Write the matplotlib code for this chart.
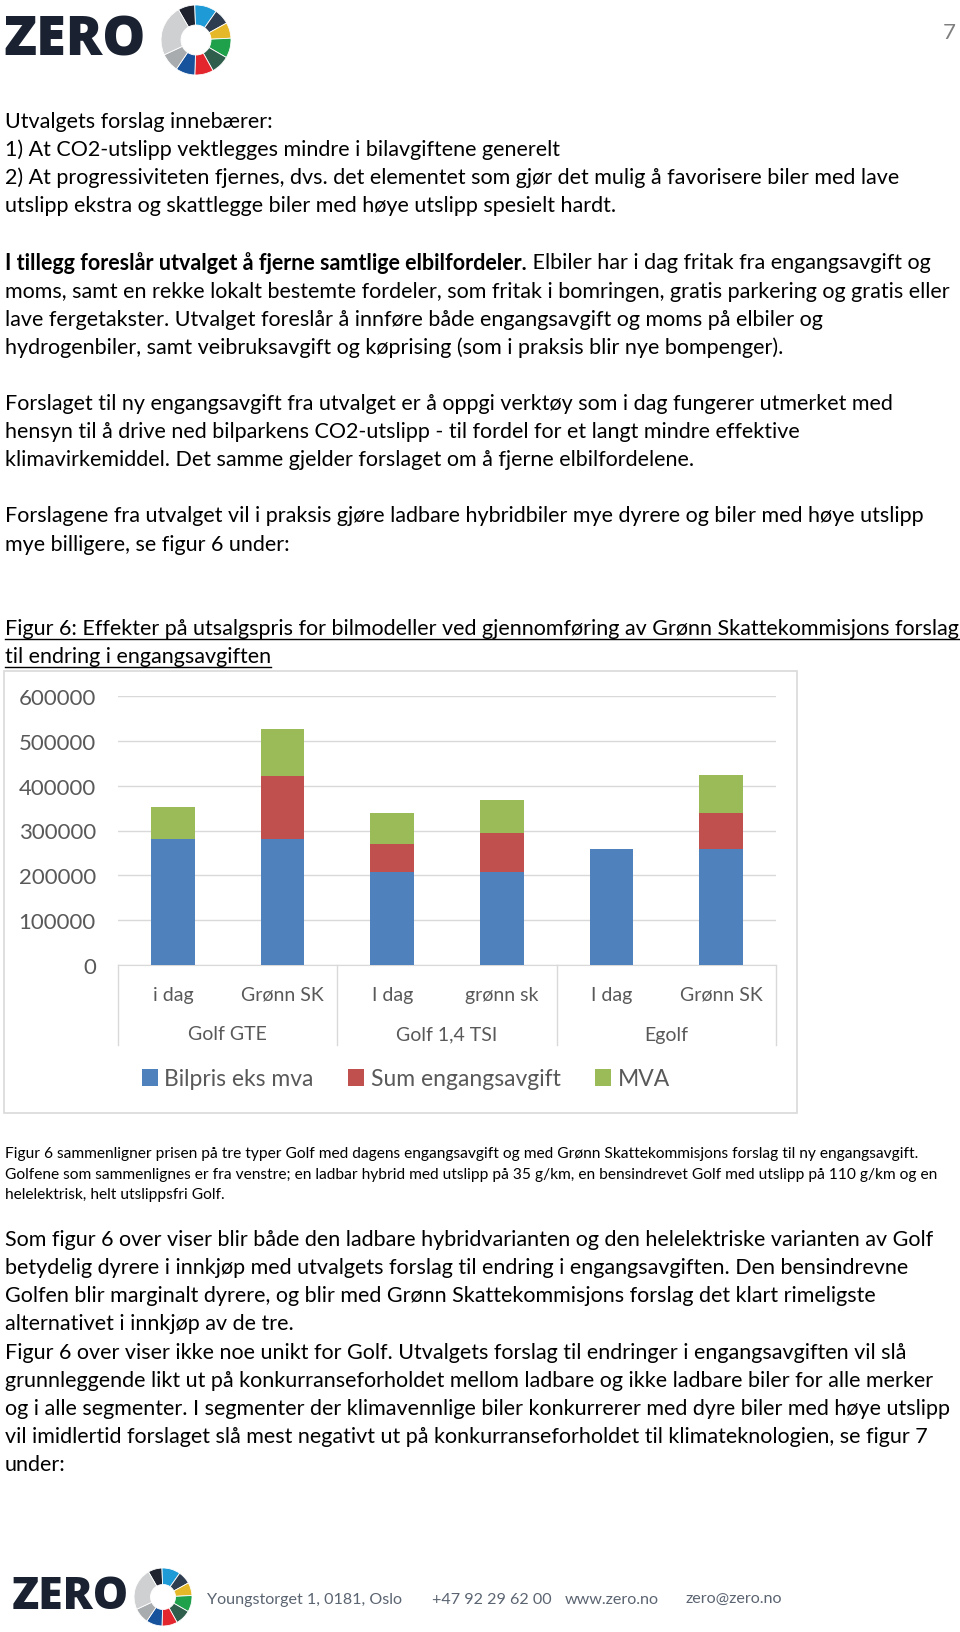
import matplotlib
matplotlib.use("Agg")
import matplotlib.pyplot as plt
import matplotlib.transforms as mtransforms
from matplotlib.patches import Wedge, Rectangle
from matplotlib.lines import Line2D
import numpy as np

W, H = 960, 1633
FONT = ["Lato", "DejaVu Sans"]

# --- dados do grafico (figur 6) ---
biler = ["Golf GTE", "Golf 1,4 TSI", "Egolf"]
scenarier = ["i dag", "Grønn SK", "I dag", "grønn sk", "I dag", "Grønn SK"]
bilpris = [281000, 281000, 207000, 207000, 259000, 259000]
engangsavgift = [0, 140000, 63000, 88000, 0, 80000]
mva = [71000, 105000, 68000, 74000, 0, 84000]
serier = ["Bilpris eks mva", "Sum engangsavgift", "MVA"]
farger = ["#4F81BD", "#C0504D", "#9BBB59"]
y_ticks = [0, 100000, 200000, 300000, 400000, 500000, 600000]

# --- tekst paa siden: (y i piksler, tekst) ---
tekst_topp = [
    (122, "Utvalgets forslag innebærer:"),
    (150, "1) At CO2-utslipp vektlegges mindre i bilavgiftene generelt"),
    (178, "2) At progressiviteten fjernes, dvs. det elementet som gjør det mulig å favorisere biler med lave"),
    (206, "utslipp ekstra og skattlegge biler med høye utslipp spesielt hardt."),
    (292, "moms, samt en rekke lokalt bestemte fordeler, som fritak i bomringen, gratis parkering og gratis eller"),
    (320, "lave fergetakster. Utvalget foreslår å innføre både engangsavgift og moms på elbiler og"),
    (348, "hydrogenbiler, samt veibruksavgift og køprising (som i praksis blir nye bompenger)."),
    (404, "Forslaget til ny engangsavgift fra utvalget er å oppgi verktøy som i dag fungerer utmerket med"),
    (432, "hensyn til å drive ned bilparkens CO2-utslipp - til fordel for et langt mindre effektive"),
    (460, "klimavirkemiddel. Det samme gjelder forslaget om å fjerne elbilfordelene."),
    (516, "Forslagene fra utvalget vil i praksis gjøre ladbare hybridbiler mye dyrere og biler med høye utslipp"),
    (545, "mye billigere, se figur 6 under:"),
]
fet_linje = (263, "I tillegg foreslår utvalget å fjerne samtlige elbilfordeler.",
             " Elbiler har i dag fritak fra engangsavgift og")
figurtittel = [
    (629, "Figur 6: Effekter på utsalgspris for bilmodeller ved gjennomføring av Grønn Skattekommisjons forslag"),
    (657, "til endring i engangsavgiften"),
]
bildetekst = [
    (1154, "Figur 6 sammenligner prisen på tre typer Golf med dagens engangsavgift og med Grønn Skattekommisjons forslag til ny engangsavgift."),
    (1175, "Golfene som sammenlignes er fra venstre; en ladbar hybrid med utslipp på 35 g/km, en bensindrevet Golf med utslipp på 110 g/km og en"),
    (1195, "helelektrisk, helt utslippsfri Golf."),
]
tekst_bunn = [
    (1240, "Som figur 6 over viser blir både den ladbare hybridvarianten og den helelektriske varianten av Golf"),
    (1268, "betydelig dyrere i innkjøp med utvalgets forslag til endring i engangsavgiften. Den bensindrevne"),
    (1296, "Golfen blir marginalt dyrere, og blir med Grønn Skattekommisjons forslag det klart rimeligste"),
    (1324, "alternativet i innkjøp av de tre."),
    (1353, "Figur 6 over viser ikke noe unikt for Golf. Utvalgets forslag til endringer i engangsavgiften vil slå"),
    (1381, "grunnleggende likt ut på konkurranseforholdet mellom ladbare og ikke ladbare biler for alle merker"),
    (1409, "og i alle segmenter. I segmenter der klimavennlige biler konkurrerer med dyre biler med høye utslipp"),
    (1437, "vil imidlertid forslaget slå mest negativt ut på konkurranseforholdet til klimateknologien, se figur 7"),
    (1465, "under:"),
]

# logo-ring: (fra grad, til grad, farge)
ring = [
    (92, 120, "#1f2330"), (55, 92, "#1e9ad6"), (29, 55, "#2e3d4f"),
    (3, 29, "#e5b82a"), (-30, 3, "#1fa04b"), (-61, -30, "#2f5e4c"),
    (-92, -61, "#e3262e"), (-124, -92, "#17539c"), (-155, -124, "#a9acae"),
    (120, 205, "#cfd0d1"),
]

fig = plt.figure(figsize=(W / 100, H / 100), dpi=100)
fig.patch.set_facecolor("white")
side = fig.add_axes([0, 0, 1, 1])
side.set_xlim(0, W)
side.set_ylim(H, 0)
side.axis("off")

BODY = 15.5
renderer = fig.canvas.get_renderer()


def tekst(x, y, s, **kw):
    kw.setdefault("fontsize", BODY)
    kw.setdefault("family", FONT)
    kw.setdefault("color", "black")
    return side.text(x, y, s, va="center", ha="left", **kw)


def hoyre_kant(t):
    bb = t.get_window_extent(renderer)
    return side.transData.inverted().transform((bb.x1, bb.y0))[0]


def logo(x, cy, cx, r_ut, r_inn, zsize):
    side.text(x, cy, "ZERO", fontsize=zsize, fontweight="heavy", color="#1a2232",
              family=["Open Sans", "DejaVu Sans"], va="center", ha="left")
    for a, b, c in ring:
        side.add_patch(Wedge((cx, cy), r_ut, -b, -a, width=r_ut - r_inn,
                             facecolor=c, edgecolor="white", lw=0.6))


# toppen
logo(3, 41, 196, 35, 15, 39)
side.text(956, 33, "7", fontsize=16, color="#7f7f7f", family=FONT, va="center", ha="right")

for y, s in tekst_topp + tekst_bunn:
    tekst(5, y, s)

y, fet, vanlig = fet_linje
t = tekst(5, y, fet, fontweight="bold")
tekst(hoyre_kant(t), y, vanlig)

for y, s in figurtittel:
    t = tekst(5, y, s)
    side.add_line(Line2D([5, hoyre_kant(t)], [y + 11, y + 11], color="black", lw=1.0))

for y, s in bildetekst:
    tekst(5, y, s, fontsize=11.2)

# grafens ramme
side.add_patch(Rectangle((4, 672), 793, 442, fill=False, edgecolor="#d9d9d9", lw=1.2))

# --- grafen ---
ax = fig.add_axes([118 / W, 1 - 966 / H, 658 / W, 269 / H])
x = np.arange(len(scenarier))
b1 = np.array(bilpris)
b2 = b1 + np.array(engangsavgift)
ax.bar(x, bilpris, 0.4, color=farger[0], label=serier[0], zorder=3)
ax.bar(x, engangsavgift, 0.4, bottom=b1, color=farger[1], label=serier[1], zorder=3)
ax.bar(x, mva, 0.4, bottom=b2, color=farger[2], label=serier[2], zorder=3)
ax.set_xlim(-0.5, len(scenarier) - 0.5)
ax.set_ylim(0, 600000)
ax.set_yticks(y_ticks)
ax.set_yticklabels([str(v) for v in y_ticks], family=FONT, fontsize=16, color="#595959")
ax.yaxis.grid(True, color="#d9d9d9", lw=1.0, zorder=0)
for s in ["top", "right", "left"]:
    ax.spines[s].set_visible(False)
ax.spines["bottom"].set_color("#d9d9d9")
ax.tick_params(axis="y", length=0, pad=16)
ax.set_xticks(x)
ax.set_xticklabels(scenarier, family=FONT, fontsize=14, color="#595959")
ax.tick_params(axis="x", length=0, pad=15)
ax.set_facecolor("none")

trans = mtransforms.blended_transform_factory(ax.transData, ax.transAxes)
for i, navn in enumerate(biler):
    ax.text(2 * i + 0.5, (966 - 1035) / 269, navn, transform=trans, ha="center", va="center",
            family=FONT, fontsize=14, color="#595959")
for xs in [-0.5, 1.5, 3.5, 5.5]:
    ax.add_line(Line2D([xs, xs], [0, (966 - 1046) / 269], transform=trans, color="#d9d9d9",
                       lw=1.0, clip_on=False))

fig.legend(loc="center", bbox_to_anchor=(406 / W, 1 - 1080 / H), ncol=3, frameon=False,
           prop={"family": FONT, "size": 16.5}, handlelength=0.7, handleheight=0.7,
           handletextpad=0.3, columnspacing=1.5, labelcolor="#595959")

# bunntekst
logo(12, 1598, 163, 29, 12.5, 32)
fot = [(207, "Youngstorget 1, 0181, Oslo"), (432, "+47 92 29 62 00"),
       (565, "www.zero.no"), (685, "zero@zero.no")]
for fx, s in fot:
    side.text(fx, 1600, s, fontsize=11.6, color="#5b6471", family=FONT, va="center", ha="left")

fig.savefig("out.png", dpi=100)
